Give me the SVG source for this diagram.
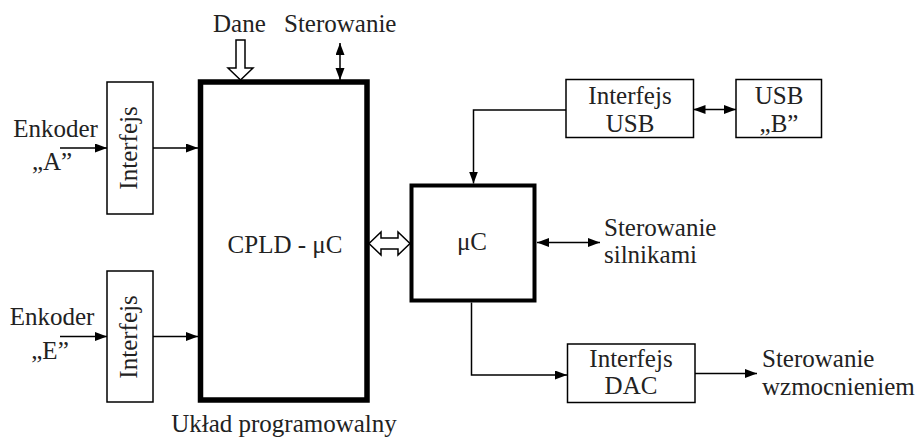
<svg xmlns="http://www.w3.org/2000/svg" width="923" height="438" viewBox="0 0 923 438">
<defs>
<marker id="ah" markerUnits="userSpaceOnUse" markerWidth="12" markerHeight="10" refX="12" refY="4.5" orient="auto-start-reverse">
<path d="M0,0 L12,4.5 L0,9 Z" fill="#000"/>
</marker>
<style>
text{font-family:"Liberation Serif","Times New Roman",serif;font-size:25px;fill:#222}
.box{fill:#fff;stroke:#000;stroke-width:1.5}
.thick{fill:#fff;stroke:#000}
.ln{fill:none;stroke:#000;stroke-width:1.5}
.mid{text-anchor:middle}
</style>
</defs>
<rect width="923" height="438" fill="#fff"/>

<g id="connectors">
<line class="ln" x1="60" y1="148" x2="107" y2="148" marker-end="url(#ah)"/>
<line class="ln" x1="153" y1="148" x2="198" y2="148" marker-end="url(#ah)"/>
<line class="ln" x1="60" y1="336.5" x2="107" y2="336.5" marker-end="url(#ah)"/>
<line class="ln" x1="153" y1="336.5" x2="198" y2="336.5" marker-end="url(#ah)"/>
<polygon points="236,40 245,40 245,68 253,68 240.5,80 228,68 236,68" fill="#fff" stroke="#000" stroke-width="1.5"/>
<line class="ln" x1="340" y1="43" x2="340" y2="80" stroke-width="2" marker-start="url(#ah)" marker-end="url(#ah)"/>
<polygon points="369,243.5 381,232 381,238 398,238 398,232 410,243.5 398,255 398,249 381,249 381,255" fill="#fff" stroke="#000" stroke-width="1.5"/>
<line class="ln" x1="693.5" y1="109.5" x2="736" y2="109.5" stroke-width="2" marker-start="url(#ah)" marker-end="url(#ah)"/>
<polyline class="ln" points="566,110 473.5,110 473.5,183.5" marker-end="url(#ah)"/>
<line class="ln" x1="537" y1="242.5" x2="600" y2="242.5" stroke-width="2" marker-start="url(#ah)" marker-end="url(#ah)"/>
<polyline class="ln" points="471.5,302.5 471.5,375 567,375" marker-end="url(#ah)"/>
<line class="ln" x1="695" y1="373.5" x2="757" y2="373.5" stroke-width="2.5" marker-end="url(#ah)"/>
</g>

<g id="labels-top">
<text x="213" y="32">Dane</text>
<text x="284" y="32">Sterowanie</text>
</g>

<g id="enkoder-a">
<text x="55.5" y="137" class="mid">Enkoder</text>
<text x="52" y="170" class="mid">„A”</text>
</g>

<g id="enkoder-e">
<text x="52" y="325" class="mid">Enkoder</text>
<text x="50" y="359" class="mid">„E”</text>
</g>

<g id="interfejs-a">
<rect class="box" x="107" y="82" width="46" height="132"/>
<text class="mid" transform="translate(137,148) rotate(-90)">Interfejs</text>
</g>

<g id="interfejs-e">
<rect class="box" x="107" y="271" width="46" height="131"/>
<text class="mid" transform="translate(137,337) rotate(-90)">Interfejs</text>
</g>

<g id="cpld">
<rect class="thick" x="200.5" y="82" width="166.5" height="318" stroke-width="5.5"/>
<text x="285" y="253" class="mid">CPLD - μC</text>
<text x="284" y="432" class="mid">Układ programowalny</text>
</g>

<g id="uc">
<rect class="thick" x="411.5" y="185.5" width="123" height="115" stroke-width="4"/>
<text x="472" y="250" class="mid">μC</text>
</g>

<g id="interfejs-usb">
<rect class="box" x="566" y="79.5" width="127.5" height="58"/>
<text x="630" y="103.5" class="mid">Interfejs</text>
<text x="630" y="131.5" class="mid">USB</text>
</g>

<g id="usb-b">
<rect class="box" x="736" y="79.5" width="85.5" height="58"/>
<text x="779" y="103.5" class="mid">USB</text>
<text x="779" y="131.5" class="mid">„B”</text>
</g>

<g id="silniki">
<text x="604" y="236">Sterowanie</text>
<text x="604" y="262.5">silnikami</text>
</g>

<g id="interfejs-dac">
<rect class="box" x="567.5" y="344" width="127.5" height="58.5"/>
<text x="631" y="366.5" class="mid">Interfejs</text>
<text x="631" y="393.5" class="mid">DAC</text>
</g>

<g id="wzmocnienie">
<text x="762" y="367">Sterowanie</text>
<text x="762" y="395">wzmocnieniem</text>
</g>
</svg>
